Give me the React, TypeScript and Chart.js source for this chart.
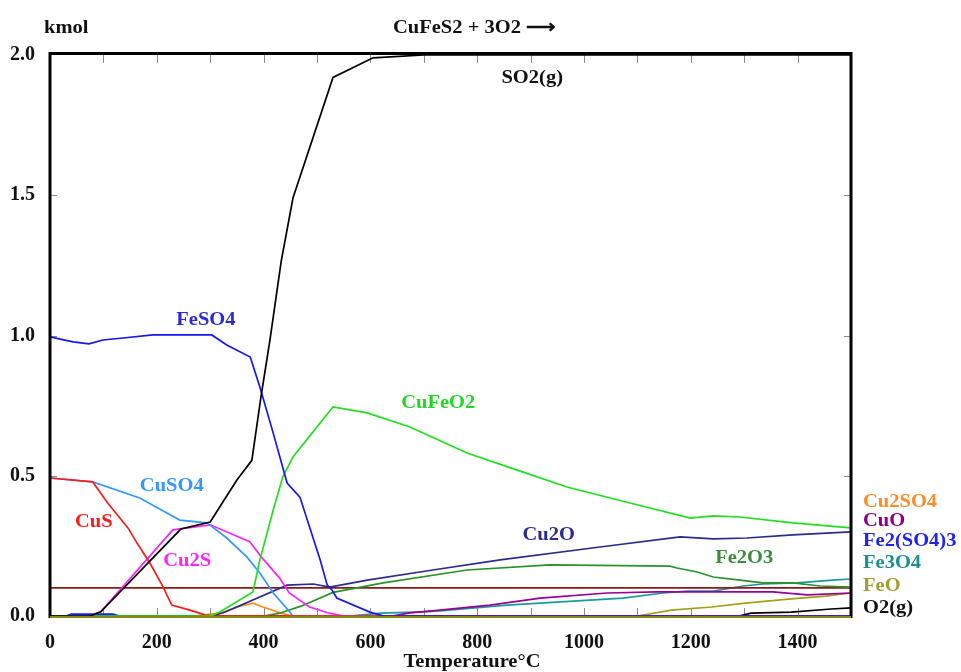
import React, { useEffect, useRef } from "react";
import { Chart, registerables } from "chart.js";

Chart.register(...registerables);

const FONT = "'Liberation Serif', 'Times New Roman', serif";
const TEXT_STRETCH = 1.08;

// Equilibrium amounts (kmol) against temperature (°C) for CuFeS2 + 3O2
const so2T = [0, 75, 95, 245, 300, 350, 378, 395, 412, 433, 455, 530, 605, 700, 1500];
const so2 = [0, 0, 0.015, 0.31, 0.335, 0.485, 0.555, 0.78, 0.985, 1.265, 1.49, 1.92, 1.99, 2.0, 2.0];

const feso4T = [0, 43, 73, 99, 137, 193, 303, 331, 375, 393, 418, 444, 468, 506, 519, 528, 537, 599, 625, 1500];
const feso4 = [0.995, 0.977, 0.97, 0.984, 0.991, 1.002, 1.002, 0.966, 0.923, 0.816, 0.652, 0.474, 0.424, 0.2, 0.111, 0.093, 0.064, 0.014, 0, 0];

const cufeo2T = [0, 300, 318, 380, 393, 418, 436, 455, 530, 594, 674, 781, 875, 968, 1086, 1199, 1242, 1292, 1391, 1500];
const cufeo2 = [0, 0, 0.014, 0.086, 0.2, 0.378, 0.496, 0.567, 0.745, 0.724, 0.674, 0.581, 0.52, 0.46, 0.403, 0.349, 0.357, 0.353, 0.332, 0.314];

const cuso4T = [0, 80, 168, 219, 243, 294, 331, 369, 393, 418, 446, 455, 1500];
const cuso4 = [0.492, 0.478, 0.421, 0.367, 0.342, 0.332, 0.278, 0.21, 0.153, 0.082, 0.021, 0, 0];

const cusT = [0, 80, 108, 146, 163, 187, 210, 228, 262, 290, 310, 1500];
const cus = [0.492, 0.478, 0.403, 0.314, 0.26, 0.189, 0.11, 0.039, 0.021, 0.004, 0, 0];

const cu2sT = [0, 75, 95, 230, 300, 374, 396, 430, 448, 486, 523, 550, 1500];
const cu2s = [0, 0, 0.015, 0.307, 0.325, 0.265, 0.21, 0.135, 0.082, 0.032, 0.01, 0, 0];

const cu2oT = [0, 305, 328, 444, 493, 524, 594, 717, 843, 1030, 1180, 1242, 1305, 1391, 1500];
const cu2o = [0, 0, 0.014, 0.11, 0.114, 0.103, 0.128, 0.164, 0.2, 0.246, 0.282, 0.275, 0.278, 0.289, 0.3];

const fe2o3T = [0, 400, 430, 470, 530, 624, 781, 936, 1161, 1174, 1212, 1242, 1292, 1335, 1391, 1442, 1500];
const fe2o3 = [0, 0, 0.01, 0.035, 0.084, 0.118, 0.164, 0.182, 0.178, 0.171, 0.157, 0.139, 0.128, 0.118, 0.118, 0.107, 0.103];

const cu2so4T = [0, 268, 318, 356, 380, 399, 431, 455, 1500];
const cu2so4 = [0, 0, 0.01, 0.035, 0.046, 0.032, 0.011, 0, 0];

const cuoT = [0, 640, 674, 730, 824, 918, 1043, 1137, 1354, 1418, 1500];
const cuo = [0, 0, 0.011, 0.021, 0.039, 0.064, 0.082, 0.086, 0.086, 0.075, 0.082];

const fe2so43T = [0, 30, 40, 118, 130, 1500];
const fe2so43 = [0, 0, 0.007, 0.007, 0, 0];

const fe3o4T = [0, 560, 620, 700, 730, 856, 1073, 1148, 1193, 1242, 1298, 1335, 1399, 1466, 1500];
const fe3o4 = [0, 0, 0.01, 0.015, 0.018, 0.039, 0.064, 0.082, 0.089, 0.089, 0.107, 0.114, 0.118, 0.128, 0.132];

const feoT = [0, 1100, 1164, 1239, 1302, 1388, 1452, 1500];
const feo = [0, 0, 0.021, 0.032, 0.046, 0.061, 0.071, 0.082];

const o2T = [0, 1290, 1313, 1388, 1463, 1500];
const o2 = [0, 0, 0.01, 0.014, 0.025, 0.029];

const levelT = [0, 1500];
const level = [0.1, 0.1];

type Series = { name: string; t: number[]; v: number[]; color: string };

const series: Series[] = [
  { name: "SO2(g)", t: so2T, v: so2, color: "#000000" },
  { name: "FeSO4", t: feso4T, v: feso4, color: "#1616f0" },
  { name: "CuFeO2", t: cufeo2T, v: cufeo2, color: "#1fe01f" },
  { name: "CuS", t: cusT, v: cus, color: "#ff1a1a" },
  { name: "CuSO4", t: cuso4T, v: cuso4, color: "#3399ff" },
  { name: "Cu2S", t: cu2sT, v: cu2s, color: "#ff22ff" },
  { name: "Cu2O", t: cu2oT, v: cu2o, color: "#2b2b8f" },
  { name: "Fe2O3", t: fe2o3T, v: fe2o3, color: "#2a922a" },
  { name: "level", t: levelT, v: level, color: "#8b1a1a" },
  { name: "Cu2SO4", t: cu2so4T, v: cu2so4, color: "#ff8c1a" },
  { name: "CuO", t: cuoT, v: cuo, color: "#990099" },
  { name: "Fe3O4", t: fe3o4T, v: fe3o4, color: "#1a9a9a" },
  { name: "Fe2(SO4)3", t: fe2so43T, v: fe2so43, color: "#1a1aff" },
  { name: "FeO", t: feoT, v: feo, color: "#a0a01a" },
  { name: "O2(g)", t: o2T, v: o2, color: "#000000" },
];

// Species names written inside the plot, anchored in data units (°C, kmol)
const innerLabels = [
  { text: "SO2(g)", t: 903, v: 1.918, color: "#111111" },
  { text: "FeSO4", t: 292, v: 1.055, color: "#2a2ad6" },
  { text: "CuFeO2", t: 727, v: 0.759, color: "#22d822" },
  { text: "CuSO4", t: 228, v: 0.463, color: "#3399ff" },
  { text: "CuS", t: 82, v: 0.335, color: "#ff1a1a" },
  { text: "Cu2S", t: 257, v: 0.196, color: "#ff22ff" },
  { text: "Cu2O", t: 934, v: 0.289, color: "#2b2b8f" },
  { text: "Fe2O3", t: 1300, v: 0.207, color: "#3d8b3d" },
];

// Species names listed beside the right edge of the plot
const sideLabels = [
  { text: "Cu2SO4", v: 0.406, color: "#ff8c28" },
  { text: "CuO", v: 0.339, color: "#8b008b" },
  { text: "Fe2(SO4)3", v: 0.267, color: "#2222ee" },
  { text: "Fe3O4", v: 0.189, color: "#1a9090" },
  { text: "FeO", v: 0.107, color: "#a0a030" },
  { text: "O2(g)", v: 0.029, color: "#111111" },
];

const chartTitle = "CuFeS2 + 3O2 \u27F6";
const unitLabel = "kmol";
const axisTitle = "Temperature\u00B0C";

function drawText(
  ctx: CanvasRenderingContext2D,
  text: string,
  x: number,
  y: number,
  color: string,
  align: CanvasTextAlign
) {
  ctx.save();
  ctx.translate(x, y);
  ctx.scale(TEXT_STRETCH, 1);
  ctx.font = `bold 19px ${FONT}`;
  ctx.fillStyle = color;
  ctx.textAlign = align;
  ctx.textBaseline = "middle";
  ctx.fillText(text, 0, 0);
  ctx.restore();
}

const framePlugin = {
  id: "frameAndLabels",
  beforeDatasetsDraw(chart: any) {
    const { ctx, chartArea: a, scales } = chart;
    ctx.save();
    ctx.strokeStyle = "#8c8c8c";
    ctx.lineWidth = 1;
    ctx.beginPath();
    for (let t = 100; t < 1500; t += 100) {
      const x = Math.round(scales.x.getPixelForValue(t)) + 0.5;
      ctx.moveTo(x, a.bottom);
      ctx.lineTo(x, a.bottom - 8);
      ctx.moveTo(x, a.top);
      ctx.lineTo(x, a.top + 8);
    }
    for (let v = 0.5; v < 2; v += 0.5) {
      const y = Math.round(scales.y.getPixelForValue(v)) + 0.5;
      ctx.moveTo(a.left, y);
      ctx.lineTo(a.left + 7, y);
      ctx.moveTo(a.right, y);
      ctx.lineTo(a.right - 7, y);
    }
    ctx.stroke();
    ctx.restore();
  },
  afterDatasetsDraw(chart: any) {
    const { ctx, chartArea: a } = chart;
    ctx.save();
    ctx.strokeStyle = "#000000";
    ctx.lineWidth = 3;
    ctx.beginPath();
    ctx.moveTo(a.left, a.bottom + 2);
    ctx.lineTo(a.left, a.top - 3);
    ctx.moveTo(a.left - 1.5, a.top - 1.5);
    ctx.lineTo(a.right + 1.5, a.top - 1.5);
    ctx.moveTo(a.right, a.top - 3);
    ctx.lineTo(a.right, a.bottom + 2);
    ctx.stroke();
    ctx.strokeStyle = "#8a8a10";
    ctx.lineWidth = 2;
    ctx.beginPath();
    ctx.moveTo(a.left, a.bottom + 1);
    ctx.lineTo(a.right, a.bottom + 1);
    ctx.stroke();
    ctx.restore();
  },
  afterDraw(chart: any) {
    const { ctx, chartArea: a, scales } = chart;
    for (const l of innerLabels) {
      drawText(ctx, l.text, scales.x.getPixelForValue(l.t), scales.y.getPixelForValue(l.v), l.color, "center");
    }
    for (const l of sideLabels) {
      drawText(ctx, l.text, a.right + 12, scales.y.getPixelForValue(l.v), l.color, "left");
    }
    drawText(ctx, unitLabel, 44, 28, "#111111", "left");
    drawText(ctx, chartTitle, 393, 28, "#111111", "left");
    drawText(ctx, axisTitle, 472, 662, "#111111", "center");
  },
};

export default function App() {
  const canvasRef = useRef<HTMLCanvasElement | null>(null);

  useEffect(() => {
    const canvas = canvasRef.current;
    if (!canvas) return;
    const chart = new Chart(canvas, {
      type: "line",
      data: {
        datasets: series.map((s) => ({
          label: s.name,
          data: s.t.map((t, i) => ({ x: t, y: s.v[i] })),
          borderColor: s.color,
          backgroundColor: s.color,
          borderWidth: 1.7,
          pointRadius: 0,
          fill: false,
          tension: 0,
        })),
      },
      options: {
        responsive: false,
        animation: false,
        events: [],
        layout: { padding: { top: 55, right: 110, left: 0, bottom: 0 } },
        plugins: {
          legend: { display: false },
          tooltip: { enabled: false },
          title: { display: false },
        },
        scales: {
          x: {
            type: "linear",
            min: 0,
            max: 1500,
            grid: { display: false },
            border: { display: false },
            afterFit: (s: any) => {
              s.height = 56;
            },
            ticks: {
              stepSize: 100,
              autoSkip: false,
              maxRotation: 0,
              padding: 7,
              color: "#111111",
              font: { family: FONT, size: 20, weight: "bold" },
              callback: (v: any) => (Number(v) % 200 === 0 ? String(v) : ""),
            },
          },
          y: {
            type: "linear",
            min: 0,
            max: 2,
            grid: { display: false },
            border: { display: false },
            afterFit: (s: any) => {
              s.width = 50;
            },
            ticks: {
              stepSize: 0.5,
              padding: 7,
              color: "#111111",
              font: { family: FONT, size: 20, weight: "bold" },
              callback: (v: any) => Number(v).toFixed(1),
            },
          },
        },
      },
      plugins: [framePlugin],
    });
    return () => chart.destroy();
  }, []);

  return (
    <div style={{ position: "fixed", left: 0, top: 0, width: 961, height: 672, background: "#ffffff" }}>
      <canvas ref={canvasRef} width={961} height={672} style={{ display: "block" }} />
    </div>
  );
}
